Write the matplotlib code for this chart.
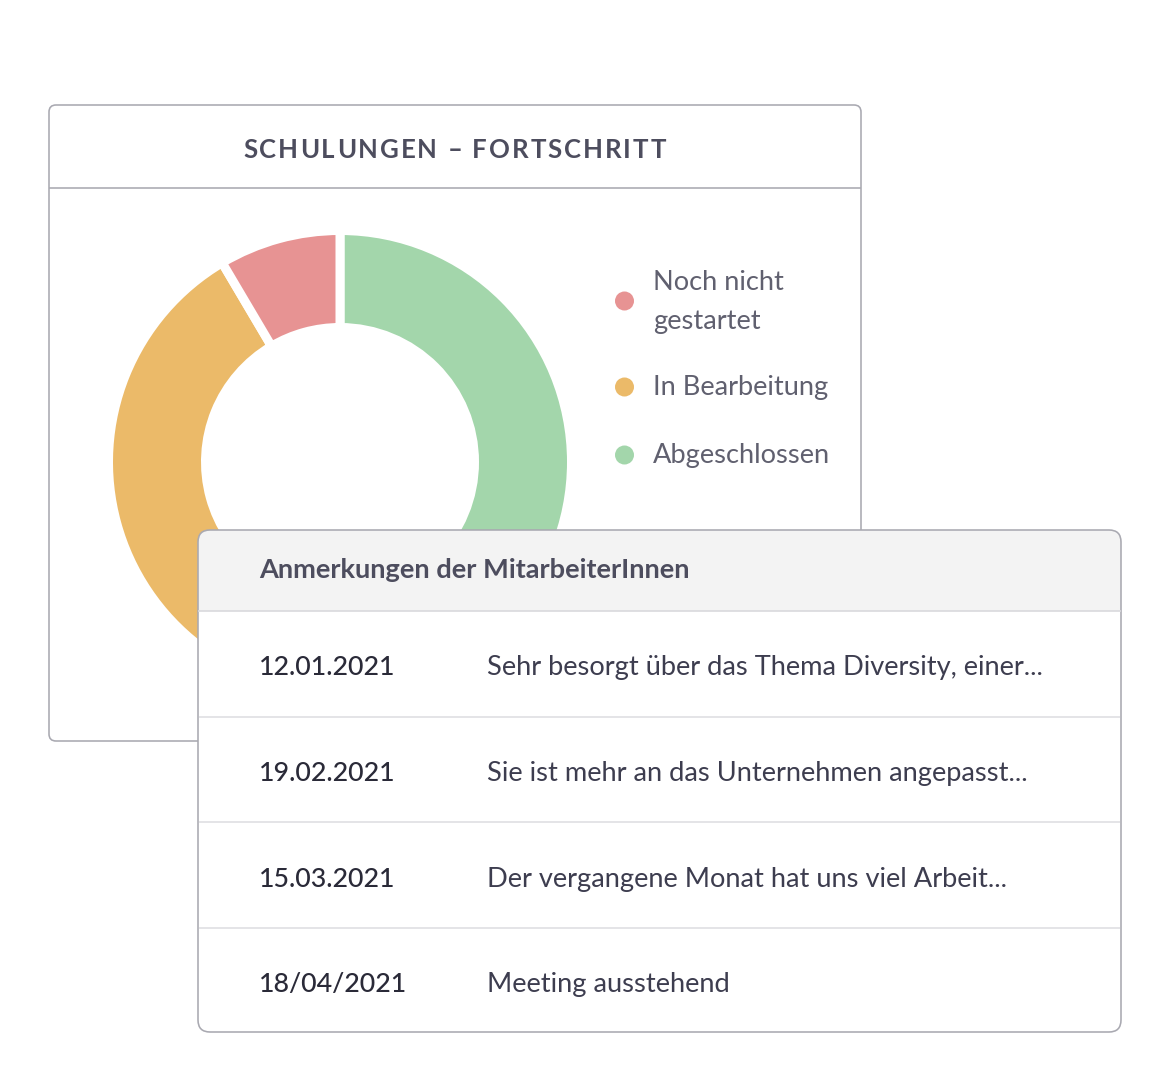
import matplotlib
matplotlib.use("Agg")
import matplotlib.pyplot as plt
from matplotlib.patches import FancyBboxPatch, Rectangle, Circle
from matplotlib.font_manager import FontProperties

# ---------------- data ----------------
title = "SCHULUNGEN – FORTSCHRITT"
categories = ["Abgeschlossen", "In Bearbeitung", "Noch nicht gestartet"]
shares = [50.0, 41.5, 8.5]
colors = ["#a3d6ab", "#ebba69", "#e79393"]
legend_labels = ["Noch nicht\ngestartet", "In Bearbeitung", "Abgeschlossen"]
legend_colors = ["#e79393", "#ebba69", "#a3d6ab"]

table_title = "Anmerkungen der MitarbeiterInnen"
dates = ["12.01.2021", "19.02.2021", "15.03.2021", "18/04/2021"]
comments = [
    "Sehr besorgt über das Thema Diversity, einer...",
    "Sie ist mehr an das Unternehmen angepasst...",
    "Der vergangene Monat hat uns viel Arbeit...",
    "Meeting ausstehend",
]

# ---------------- figure ----------------
W, H = 1170, 1090
fig = plt.figure(figsize=(W / 100, H / 100), dpi=100)
fig.patch.set_facecolor("white")
FONT = "Lato"
BORDER = "#a9a9b1"
PX = 72 / 100  # points per pixel

ax_bg = fig.add_axes([0, 0, 1, 1], zorder=0)
ax_bg.set_xlim(0, W)
ax_bg.set_ylim(H, 0)
ax_bg.axis("off")

# card 1
c1 = FancyBboxPatch((49, 105), 812, 636, boxstyle="round,pad=0,rounding_size=7",
                    facecolor="white", edgecolor=BORDER, linewidth=1.6 * PX)
ax_bg.add_patch(c1)
ax_bg.plot([49, 861], [187.5, 187.5], color=BORDER, lw=1.6 * PX, solid_capstyle="butt")

# spaced title
renderer = fig.canvas.get_renderer()
fp_title = FontProperties(family=FONT, weight="bold", size=18.5)
widths = [renderer.get_text_width_height_descent(ch, fp_title, ismath=False)[0] for ch in title]
target = 666 - 243
track = (target - sum(widths)) / (len(title) - 1)
x = 454.5 - target / 2
for ch, w in zip(title, widths):
    ax_bg.text(x, 150, ch, fontproperties=fp_title, color="#4d4d5e", ha="left", va="center")
    x += w + track

# legend
leg_y = [301, 387, 455]
for lab, col, y in zip(legend_labels, legend_colors, leg_y):
    ax_bg.add_patch(Circle((624.5, y), 9.5, facecolor=col, edgecolor="none"))
    ax_bg.text(653, y + 1, lab, fontsize=19.6, family=FONT, weight="normal", color="#60606f",
               ha="left", va="center", linespacing=1.65)

# donut
gap = 9.0
r_out = 227 + gap / 2
r_in = 139 - gap / 2
cx, cy = 340, 462
ax_pie = fig.add_axes([(cx - r_out) / W, (H - cy - r_out) / H, 2 * r_out / W, 2 * r_out / H], zorder=1)
ax_pie.pie(shares, colors=colors, startangle=90, counterclock=False, radius=1.0,
           wedgeprops=dict(width=(r_out - r_in) / r_out, edgecolor="white", linewidth=gap * PX))
ax_pie.set_xlim(-1, 1)
ax_pie.set_ylim(-1, 1)
ax_pie.axis("off")

# table card
ax_t = fig.add_axes([0, 0, 1, 1], zorder=2)
ax_t.set_xlim(0, W)
ax_t.set_ylim(H, 0)
ax_t.axis("off")
ax_t.patch.set_alpha(0)

tx0, ty0, tx1, ty1 = 198, 530, 1121, 1032
card = FancyBboxPatch((tx0, ty0), tx1 - tx0, ty1 - ty0, boxstyle="round,pad=0,rounding_size=12",
                      facecolor="white", edgecolor="none")
ax_t.add_patch(card)
hdr = Rectangle((tx0, ty0), tx1 - tx0, 611 - ty0, facecolor="#f3f3f3", edgecolor="none")
ax_t.add_patch(hdr)
hdr.set_clip_path(card)
ax_t.plot([tx0, tx1], [611, 611], color="#d8d8dc", lw=1.6 * PX, solid_capstyle="butt")
ax_t.add_patch(FancyBboxPatch((tx0, ty0), tx1 - tx0, ty1 - ty0, boxstyle="round,pad=0,rounding_size=12",
                              facecolor="none", edgecolor=BORDER, linewidth=1.6 * PX))
ax_t.text(259, 570, table_title, fontsize=19.6, family=FONT, weight="bold", color="#4d4d5e",
          ha="left", va="center")

row_h = 105.7
row_top = 611
for i, (d, c) in enumerate(zip(dates, comments)):
    yc = row_top + row_h * (i + 0.5)
    ax_t.text(259, yc + 4, d, fontsize=19.3, family=FONT, weight="medium", color="#2a2a38",
              ha="left", va="center")
    ax_t.text(487, yc + 4, c, fontsize=19.6, family=FONT, color="#3d3d4f", ha="left", va="center")
    if i < len(dates) - 1:
        yl = row_top + row_h * (i + 1)
        ax_t.plot([tx0 + 1, tx1 - 1], [yl, yl], color="#dedee2", lw=1.6 * PX, solid_capstyle="butt")

fig.savefig("out.png", dpi=100, facecolor="white")
